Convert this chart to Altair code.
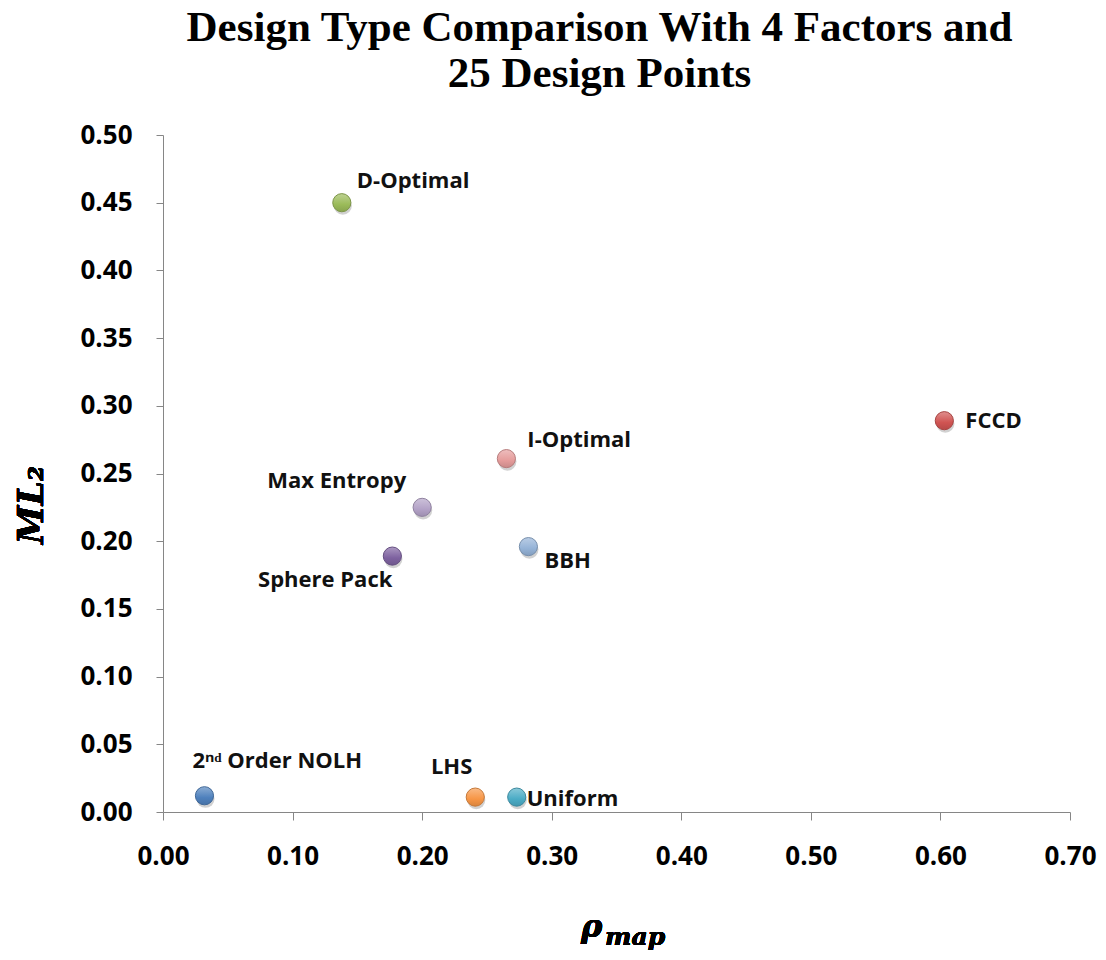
import altair as alt
import pandas as pd

designs = ["2nd Order NOLH", "LHS", "Uniform", "D-Optimal", "I-Optimal",
           "Max Entropy", "Sphere Pack", "BBH", "FCCD"]
labels = ["2ⁿᵈ Order NOLH", "LHS", "Uniform", "D-Optimal", "I-Optimal",
          "Max Entropy", "Sphere Pack", "BBH", "FCCD"]
rho_map = [0.032, 0.241, 0.273, 0.138, 0.265, 0.200, 0.177, 0.282, 0.603]
ml2 = [0.012, 0.011, 0.011, 0.450, 0.261, 0.225, 0.189, 0.196, 0.289]
x_ticks = [0.0, 0.1, 0.2, 0.3, 0.4, 0.5, 0.6, 0.7]
y_ticks = [0.0, 0.05, 0.10, 0.15, 0.20, 0.25, 0.30, 0.35, 0.40, 0.45, 0.50]

df = pd.DataFrame({"design": designs, "label": labels, "rho": rho_map, "ml2": ml2})

# style: colours and label placement per design
colors = {
    "2nd Order NOLH": "#4F81BD", "LHS": "#F79646", "Uniform": "#4BACC6",
    "D-Optimal": "#9BBB59", "I-Optimal": "#E59C9B", "Max Entropy": "#B3A2C7",
    "Sphere Pack": "#7E62A0", "BBH": "#95B3D7", "FCCD": "#D05452",
}
placement = {  # align, dx, dy (alphabetic baseline)
    "2nd Order NOLH": ("left", -12, -28),
    "LHS": ("right", -3, -23),
    "Uniform": ("left", 10, 9),
    "D-Optimal": ("left", 15, -15),
    "I-Optimal": ("left", 21, -12),
    "Max Entropy": ("right", -16, -19),
    "Sphere Pack": ("right", 0, 31),
    "BBH": ("left", 16, 21),
    "FCCD": ("left", 21, 7),
}


def mix(hexcol, t):
    h = hexcol.lstrip("#")
    r, g, b = (int(h[i:i + 2], 16) for i in (0, 2, 4))
    r, g, b = (int(c + (255 - c) * t) for c in (r, g, b))
    return "#%02x%02x%02x" % (r, g, b)


def darken(hexcol, t):
    h = hexcol.lstrip("#")
    r, g, b = (int(int(h[i:i + 2], 16) * (1 - t)) for i in (0, 2, 4))
    return "#%02x%02x%02x" % (r, g, b)


x_enc = alt.X("rho:Q", scale=alt.Scale(domain=[0, 0.7], nice=False),
              axis=alt.Axis(values=x_ticks, format=".2f", title=None, grid=False,
                            tickSize=8, labelPadding=23, labelFlush=False))
y_enc = alt.Y("ml2:Q", scale=alt.Scale(domain=[0, 0.5], nice=False),
              axis=alt.Axis(values=y_ticks, format=".2f", title=None, grid=False,
                            tickSize=7, labelPadding=24, labelFlush=False))

base = alt.Chart(df)

layers = []
# shadow
layers.append(base.mark_circle(size=330, color="#000000", opacity=0.18, yOffset=3, xOffset=1)
              .encode(x=x_enc, y=y_enc))

for d in designs:
    c = colors[d]
    grad = alt.LinearGradient(
        gradient="linear", x1=0, y1=0, x2=0, y2=1,
        stops=[alt.GradientStop(color=mix(c, 0.35), offset=0),
               alt.GradientStop(color=c, offset=0.6),
               alt.GradientStop(color=darken(c, 0.12), offset=1)])
    layers.append(
        base.transform_filter(alt.datum.design == d)
        .mark_point(filled=True, shape="circle", size=330, fill=grad,
                    stroke=darken(c, 0.2), strokeWidth=1, opacity=1)
        .encode(x=x_enc, y=y_enc)
    )

for d in designs:
    al, dx, dy = placement[d]
    layers.append(
        base.transform_filter(alt.datum.design == d)
        .mark_text(align=al, baseline="alphabetic", dx=dx, dy=dy,
                   font="Open Sans", fontWeight="bold", fontSize=22, color="#111111")
        .encode(x=x_enc, y=y_enc, text="label:N")
    )

# axis titles (math-style)
layers.append(alt.Chart(df).mark_text(text="ML₂", angle=270, align="center", baseline="middle",
                                      font="DejaVu Serif", fontStyle="italic",
                                      fontWeight="bold", fontSize=35, color="black")
              .encode(x=alt.value(-131), y=alt.value(370)))
layers.append(alt.Chart(df).mark_text(text="ρ", align="left", baseline="alphabetic",
                                      font="DejaVu Serif", fontStyle="italic",
                                      fontWeight="bold", fontSize=32, color="black")
              .encode(x=alt.value(418), y=alt.value(802)))
layers.append(alt.Chart(df).mark_text(text="map", align="left", baseline="alphabetic",
                                      font="DejaVu Serif", fontStyle="italic",
                                      fontWeight="bold", fontSize=25, color="black")
              .encode(x=alt.value(442), y=alt.value(810)))

chart = alt.layer(*layers).properties(
    width=907, height=677,
    autosize=alt.AutoSizeParams(type="none"),
    padding={"left": 155, "top": 127, "right": 28, "bottom": 140},
    title=alt.TitleParams(
        text=["Design Type Comparison With 4 Factors and", "25 Design Points"],
        font="Liberation Serif", fontSize=43, fontWeight="bold", color="black",
        anchor="middle", dx=-17, offset=26, lineHeight=46),
).configure_view(stroke=None).configure_axis(
    domainColor="#868686", tickColor="#868686", domainWidth=1, tickWidth=1,
    labelFont="Open Sans", labelFontWeight="bold", labelFontSize=26, labelColor="black",
)

chart.save("out.html", embed_options={"renderer": "svg", "actions": False})
